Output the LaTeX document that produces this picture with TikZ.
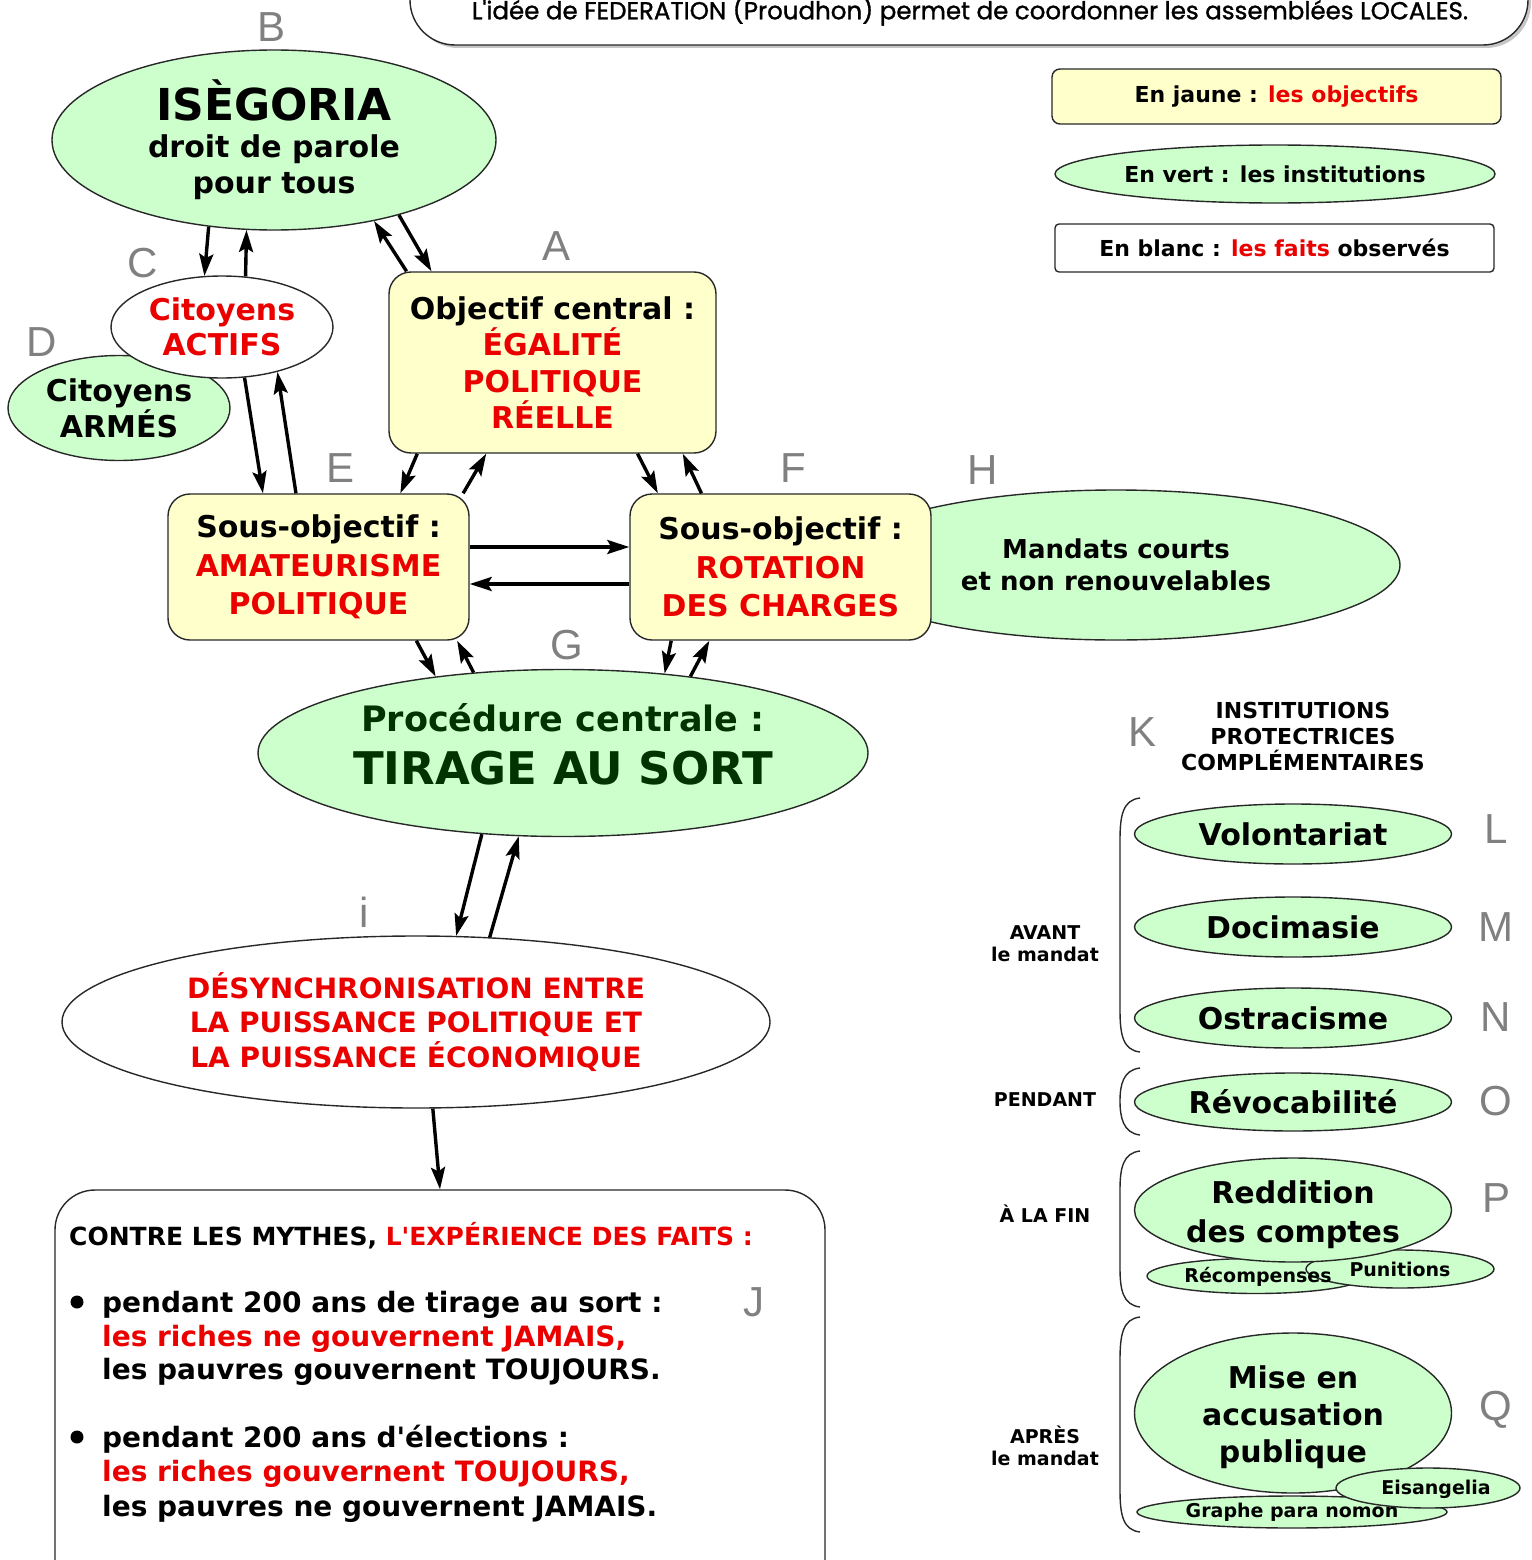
\documentclass[tikz,border=0pt]{standalone}
\usepackage{fontspec}
\setmainfont{DejaVu Sans}[Ligatures=TeXOff]
\newfontfamily\labfont{Liberation Sans}
\newfontfamily\topfont{Poppins}[FakeBold=1.2]
\usetikzlibrary{arrows.meta,calc,shapes.geometric}
\definecolor{vert}{RGB}{204,255,204}
\definecolor{jaune}{RGB}{255,255,204}
\definecolor{rouge}{RGB}{235,0,0}
\definecolor{vfonce}{RGB}{0,51,0}
\definecolor{bord}{RGB}{40,40,40}
\definecolor{lettre}{RGB}{128,128,128}
\begin{document}
\begin{tikzpicture}[x=1pt,y=-1pt,
  ell/.style={ellipse, draw=bord, line width=1.4pt, inner sep=-6pt, align=center},
  vell/.style={ell, fill=vert},
  bell/.style={ell, fill=white},
  jbox/.style={rectangle, rounded corners=22pt, draw=bord, line width=1.4pt, fill=jaune, inner sep=0pt, align=center},
  arr/.style={line width=3.4pt, -{Stealth[length=22pt,width=14pt,inset=4pt]}},
  lbl/.style={font=\labfont\fontsize{42}{42}\selectfont, text=lettre, inner sep=0pt},
  fmain/.style={font=\bfseries\fontsize{30}{36.5}\selectfont},
  fleg/.style={font=\bfseries\fontsize{22}{26}\selectfont},
  fsmall/.style={font=\bfseries\fontsize{19}{22}\selectfont},
  jtxt/.style={font=\bfseries\fontsize{28}{34}\selectfont, inner sep=0pt, anchor=base west},
  brk/.style={draw=bord, line width=1.4pt},
]
\useasboundingbox (0,0) rectangle (1531,1560);
\clip (0,0) rectangle (1531,1560);

% top box
\fill[gray!45, rounded corners=45pt] (413,-80) rectangle (1531,48);
\draw[bord, line width=1.4pt, fill=white, rounded corners=45pt] (410,-80) rectangle (1528,45);
\node[font=\topfont\fontsize{24.5}{28}\selectfont, inner sep=0pt] (T) at (970,11) {L'idée de FEDERATION (Proudhon) permet de coordonner les assemblées LOCALES.};

% legend
\node[jbox, rounded corners=8pt, minimum width=449pt, minimum height=55pt, fleg] (leg1) at (1276.5,96.5) {En jaune : \textcolor{rouge}{les objectifs}};
\node[vell, minimum width=440pt, minimum height=58pt, fleg] (leg2) at (1275,174) {En vert : les institutions};
\node[rectangle, rounded corners=4pt, draw=bord, line width=1.4pt, fill=white, minimum width=439pt, minimum height=48pt, inner sep=0pt, fleg] (leg3) at (1274.5,248) {En blanc : \textcolor{rouge}{les faits} observés};

% main graph
\node[vell, minimum width=444pt, minimum height=180pt, fmain] (B) at (274,140) {{\fontsize{44}{44}\selectfont ISÈGORIA}\\droit de parole\\pour tous};
\node[vell, minimum width=222pt, minimum height=105pt, font=\bfseries\fontsize{30}{36}\selectfont] (D) at (119,408) {Citoyens\\ARMÉS};
\node[bell, minimum width=222pt, minimum height=102pt, font=\bfseries\fontsize{30}{35}\selectfont, text=rouge] (C) at (222,327) {Citoyens\\ACTIFS};
\node[jbox, minimum width=327pt, minimum height=181pt, fmain] (A) at (552.5,362.5) {Objectif central :\\\textcolor{rouge}{ÉGALITÉ}\\\textcolor{rouge}{POLITIQUE}\\\textcolor{rouge}{RÉELLE}};
\node[vell, minimum width=568pt, minimum height=150pt, font=\bfseries\fontsize{26}{32}\selectfont] (H) at (1116,565) {Mandats courts\\et non renouvelables};
\node[jbox, minimum width=301pt, minimum height=146pt, font=\bfseries\fontsize{30}{38.5}\selectfont] (E) at (318.5,567) {Sous-objectif :\\\textcolor{rouge}{AMATEURISME}\\\textcolor{rouge}{POLITIQUE}};
\node[jbox, minimum width=301pt, minimum height=146pt, font=\bfseries\fontsize{30}{38.5}\selectfont] (F) at (780.5,567) {Sous-objectif :\\\textcolor{rouge}{ROTATION}\\\textcolor{rouge}{DES CHARGES}};
\node[vell, minimum width=610pt, minimum height=167pt] (G) at (563,753) {};
\node[font=\bfseries\fontsize{35}{53}\selectfont, text=vfonce, align=center, inner sep=0pt] (Gt) at (563,744) {Procédure centrale :\\{\fontsize{45}{53}\selectfont TIRAGE AU SORT}};
\node[bell, minimum width=708pt, minimum height=172pt, font=\bfseries\fontsize{28}{34.5}\selectfont, text=rouge] (I) at (416,1022) {DÉSYNCHRONISATION ENTRE\\LA PUISSANCE POLITIQUE ET\\LA PUISSANCE ÉCONOMIQUE};
\node[rectangle, rounded corners=40pt, draw=bord, line width=1.4pt, minimum width=770pt, minimum height=420pt, inner sep=0pt] (J) at (440,1400) {};

% J text
\node[jtxt, font=\bfseries\fontsize{25}{30}\selectfont] (j0) at (69,1245) {CONTRE LES MYTHES, \textcolor{rouge}{L'EXPÉRIENCE DES FAITS :}};
\fill (77,1302) circle (6.5);
\node[jtxt] (j1) at (102,1312) {pendant 200 ans de tirage au sort :};
\node[jtxt, text=rouge] (j2) at (102,1346) {les riches ne gouvernent JAMAIS,};
\node[jtxt] (j3) at (102,1379) {les pauvres gouvernent TOUJOURS.};
\fill (77,1437) circle (6.5);
\node[jtxt] (j4) at (102,1447) {pendant 200 ans d'élections :};
\node[jtxt, text=rouge] (j5) at (102,1481) {les riches gouvernent TOUJOURS,};
\node[jtxt] (j6) at (102,1516) {les pauvres ne gouvernent JAMAIS.};

% arrows
\draw[arr] (B.233.1) -- (C.109.7);
\draw[arr] (C.65.7) -- (B.253.9);
\draw[arr] (A.148.6) -- (B.321.1);
\draw[arr] (B.329.9) -- (A.143.1);
\draw[arr] (C.294.7) -- (E.127.7);
\draw[arr] (E.107.1) -- (C.321.2);
\draw[arr] (A.214.3) -- (E.42.9);
\draw[arr] (E.27.8) -- (A.234.1);
\draw[arr] (A.313) -- (F.149.4);
\draw[arr] (F.137.8) -- (A.325.5);
\draw[arr] ($(E.east)+(0,-20)$) -- ($(F.west)+(0,-20)$);
\draw[arr] ($(F.west)+(0,17)$) -- ($(E.east)+(0,17)$);
\draw[arr] (E.323.7) -- (G.149.6);
\draw[arr] (G.138.3) -- (E.332.4);
\draw[arr] (F.214.7) -- (G.38.1);
\draw[arr] (G.31.2) -- (F.226);
\draw[arr] (G.225.3) -- (I.65.6);
\draw[arr] (I.49) -- (G.242.6);
\draw[arr] (I.281.2) -- (J.90.8);

% right column
\node[fleg, align=center, inner sep=0pt] (K) at (1303,736) {INSTITUTIONS\\PROTECTRICES\\COMPLÉMENTAIRES};
\node[vell, minimum width=317pt, minimum height=60pt, fmain] (L) at (1293,834) {Volontariat};
\node[vell, minimum width=317pt, minimum height=60pt, fmain] (M) at (1293,927) {Docimasie};
\node[vell, minimum width=317pt, minimum height=60pt, fmain] (N) at (1293,1018) {Ostracisme};
\node[vell, minimum width=317pt, minimum height=58pt, fmain] (O) at (1293,1102) {Révocabilité};
\node[vell, minimum width=218pt, minimum height=35pt] (Rec) at (1256,1276) {};
\node[vell, minimum width=188pt, minimum height=38pt, fsmall] (Pun) at (1400,1269) {Punitions};
\node[fsmall, inner sep=0pt] (Rect) at (1258,1277) {Récompenses};
\node[vell, minimum width=317pt, minimum height=104pt] (P) at (1293,1210) {};
\node[font=\bfseries\fontsize{30}{39}\selectfont, align=center, inner sep=0pt] (Pt) at (1293,1215) {Reddition\\des comptes};
\node[vell, minimum width=317pt, minimum height=160pt] (Q) at (1293,1413) {};
\node[font=\bfseries\fontsize{30}{37}\selectfont, align=center, inner sep=0pt] (Qt) at (1293,1417) {Mise en\\accusation\\publique};
\node[vell, minimum width=310pt, minimum height=32pt, fsmall] (Gra) at (1292,1512) {Graphe para nomon};
\node[vell, minimum width=184pt, minimum height=40pt] (Eis) at (1428,1488) {};
\node[fsmall, inner sep=0pt] (Eist) at (1436,1489) {Eisangelia};

% brackets
\draw[brk] (1140,798) .. controls (1123,800) and (1120,815) .. (1120,840) -- (1120,1010) .. controls (1120,1035) and (1123,1050) .. (1140,1052);
\draw[brk] (1140,1068) .. controls (1123,1070) and (1120,1085) .. (1120,1101) .. controls (1120,1117) and (1123,1133) .. (1140,1135);
\draw[brk] (1140,1151) .. controls (1123,1153) and (1120,1168) .. (1120,1190) -- (1120,1268) .. controls (1120,1290) and (1123,1305) .. (1140,1307);
\draw[brk] (1140,1317) .. controls (1123,1319) and (1120,1334) .. (1120,1360) -- (1120,1490) .. controls (1120,1515) and (1123,1530) .. (1140,1532);

\node[fsmall, align=center, inner sep=0pt] (avant) at (1045,944) {AVANT\\le mandat};
\node[fsmall, inner sep=0pt] (pendant) at (1045,1100) {PENDANT};
\node[fsmall, inner sep=0pt] (fin) at (1045,1214) {À LA FIN};
\node[fsmall, align=center, inner sep=0pt] (apres) at (1045,1446) {APRÈS\\le mandat};

% letters
\node[lbl] (lA) at (556,246) {A};
\node[lbl] (lB) at (272,27) {B};
\node[lbl] (lC) at (143,263) {C};
\node[lbl] (lD) at (42,342) {D};
\node[lbl] (lE) at (341,468) {E};
\node[lbl] (lF) at (793,468) {F};
\node[lbl] (lG) at (567,645) {G};
\node[lbl] (lH) at (983,470) {H};
\node[lbl] (li) at (364,912) {i};
\node[lbl] (lJ) at (754,1302) {J};
\node[lbl] (lK) at (1142,732) {K};
\node[lbl] (lL) at (1496,829) {L};
\node[lbl] (lM) at (1496,927) {M};
\node[lbl] (lN) at (1496,1017) {N};
\node[lbl] (lO) at (1496,1101) {O};
\node[lbl] (lP) at (1496,1198) {P};
\node[lbl] (lQ) at (1496,1410) {Q};
\end{tikzpicture}
\end{document}
